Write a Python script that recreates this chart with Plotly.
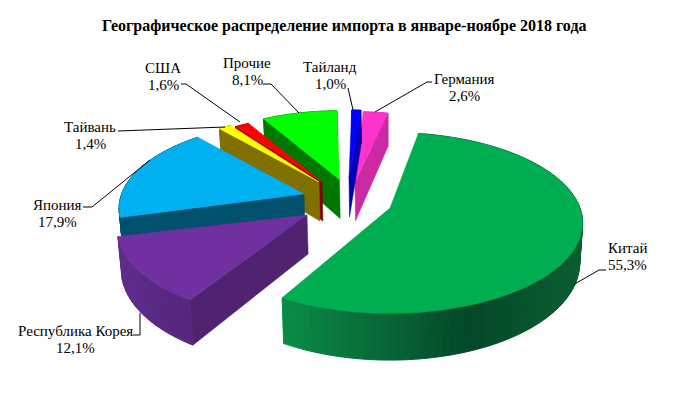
import math
import plotly.graph_objects as go

# ---- data ----
names = ["Китай", "Республика Корея", "Япония", "Тайвань", "США", "Прочие", "Тайланд", "Германия"]
shares = [55.3, 12.1, 17.9, 1.4, 1.6, 8.1, 1.0, 2.6]
share_labels = ["55,3%", "12,1%", "17,9%", "1,4%", "1,6%", "8,1%", "1,0%", "2,6%"]
title_text = "Географическое распределение импорта в январе-ноябре 2018 года"

# ---- styles ----
top_colors = ["#00AD50", "#7030A0", "#00B0F0", "#FFFF00", "#FF0000", "#00FF00", "#0000FF", "#FF33CC"]
side_colors = ["#054E2A", "#4F2370", "#00506E", "#807000", "#800000", "#007700", "#0000B0", "#CC2AA5"]
rim_stops = {"Китай": [(0, "#0B8C47"), (0.62, "#04482A"), (1, "#0A5F30")],
             "Республика Корея": [(0, "#5F2C8C"), (1, "#56277C")]}

# ---- layout of the exploded 3D pie: screen anchor, scale and angular nudge of each slice ----
anchors = {"Китай": (390, 208, 1.0, -2), "Республика Корея": (307, 215, 0.985, 1.5), "Япония": (304, 194, 0.96, 0),
           "Тайвань": (319, 182, 0.90, 0), "США": (322, 182, 0.88, 0), "Прочие": (339.5, 179.5, 0.91, 0),
           "Тайланд": (349, 178, 0.90, 2), "Германия": (355, 182, 0.93, 0.5)}
draw_order = ["Прочие", "Германия", "Тайланд", "США", "Тайвань", "Япония", "Республика Корея", "Китай"]
START_DEG = 12.0          # where the first slice starts, clockwise from the back
AX, BY, PERSP = 190.0, 88.0, 0.165
DEPTH = 39.0
CONVERGE = 0.015
XC = 385.0

label_pos = {"Китай": (627, 248), "Республика Корея": (75, 331), "Япония": (57, 205), "Тайвань": (90, 127),
             "США": (163, 68), "Прочие": (247, 63), "Тайланд": (330, 67), "Германия": (464, 79)}
leaders = {"Китай": [(573, 285), (599, 270), (606, 270)],
           "Республика Корея": [(140, 313), (140, 335), (133, 335)],
           "Япония": [(83, 207), (92, 207), (150, 160)],
           "Тайвань": [(118, 131), (225, 127)],
           "США": [(181, 84), (186, 84), (240, 122)],
           "Прочие": [(263, 84), (271, 84), (299, 113)],
           "Тайланд": [(348, 88), (353, 110)],
           "Германия": [(375, 112), (427, 82), (432, 82)]}


def hex2rgb(h):
    return tuple(int(h[i:i + 2], 16) for i in (1, 3, 5))


def mix(stops, f):
    f = max(0, min(1, f))
    for (a, ca), (b, cb) in zip(stops, stops[1:]):
        if f <= b:
            t = (f - a) / (b - a)
            ra, rb = hex2rgb(ca), hex2rgb(cb)
            return "rgb(%d,%d,%d)" % tuple(ra[i] + (rb[i] - ra[i]) * t for i in range(3))
    return stops[-1][1]


def project(name, deg, r=1.0):
    ax, ay, s, _ = anchors[name]
    t = math.radians(deg)
    x, y = r * math.sin(t), r * math.cos(t)
    w = 1 + PERSP * y
    return ax + s * AX * x / w, ay - s * BY * y / w, w


def drop(p):
    u, v, w = p
    return u - (u - XC) * CONVERGE, v + DEPTH / w


fig = go.Figure()


def poly(pts, color, lw=0.0):
    xs = [p[0] for p in pts] + [pts[0][0]]
    ys = [p[1] for p in pts] + [pts[0][1]]
    fig.add_trace(go.Scatter(x=xs, y=ys, mode="lines", fill="toself", fillcolor=color,
                             line=dict(color=color, width=lw), hoverinfo="skip", showlegend=False))


# angular span of every slice, clockwise from START_DEG
total = sum(shares)
spans = {}
a = START_DEG
for n, v in zip(names, shares):
    spans[n] = (a + anchors[n][3], a + anchors[n][3] + v / total * 360.0)
    a += v / total * 360.0

for n in draw_order:
    i = names.index(n)
    a0, a1 = spans[n]
    steps = max(2, int((a1 - a0) / 2))
    angs = [a0 + (a1 - a0) * j / steps for j in range(steps + 1)]
    rim = [project(n, t) for t in angs]
    apex = project(n, 0, 0.0)
    # radial walls, only those that face the viewer
    if math.sin(math.radians(a0)) < 0:
        poly([apex[:2], rim[0][:2], drop(rim[0]), drop(apex)], side_colors[i], 0.5)
    if math.sin(math.radians(a1)) > 0:
        poly([apex[:2], rim[-1][:2], drop(rim[-1]), drop(apex)], side_colors[i], 0.5)
    # outer wall, shaded across its width
    us = [p[0] for p in rim]
    umin, umax = min(us), max(us)
    for p, q in zip(rim, rim[1:]):
        if n in rim_stops:
            col = mix(rim_stops[n], ((p[0] + q[0]) / 2 - umin) / max(1, umax - umin))
        else:
            col = side_colors[i]
        poly([p[:2], q[:2], drop(q), drop(p)], col, 1)
    # top face
    poly([apex[:2]] + [p[:2] for p in rim], top_colors[i], 0.5)

# leader lines
for n in names:
    pts = leaders[n]
    fig.add_trace(go.Scatter(x=[p[0] for p in pts], y=[p[1] for p in pts], mode="lines",
                             line=dict(color="#000000", width=1), hoverinfo="skip", showlegend=False))

font = "Liberation Serif"
for n, lab in zip(names, share_labels):
    x, y = label_pos[n]
    fig.add_annotation(x=x, y=y, text=n, showarrow=False, xanchor="center", yanchor="middle",
                       font=dict(family=font, size=15, color="#000000"))
    fig.add_annotation(x=x, y=y + 17, text=lab, showarrow=False, xanchor="center", yanchor="middle",
                       font=dict(family=font, size=15, color="#000000"))
fig.add_annotation(x=344, y=26, text="<b>" + title_text + "</b>", showarrow=False, xanchor="center",
                   yanchor="middle", font=dict(family=font, size=16, color="#000000"))

fig.update_layout(width=684, height=394, margin=dict(l=0, r=0, t=0, b=0), paper_bgcolor="#FFFFFF",
                  plot_bgcolor="#FFFFFF", showlegend=False,
                  xaxis=dict(range=[0, 684], visible=False, fixedrange=True),
                  yaxis=dict(range=[394, 0], visible=False, fixedrange=True))
fig.write_html("out.html", config=dict(displayModeBar=False),
               post_script="document.body.style.margin='0';document.documentElement.style.overflow='hidden';")
